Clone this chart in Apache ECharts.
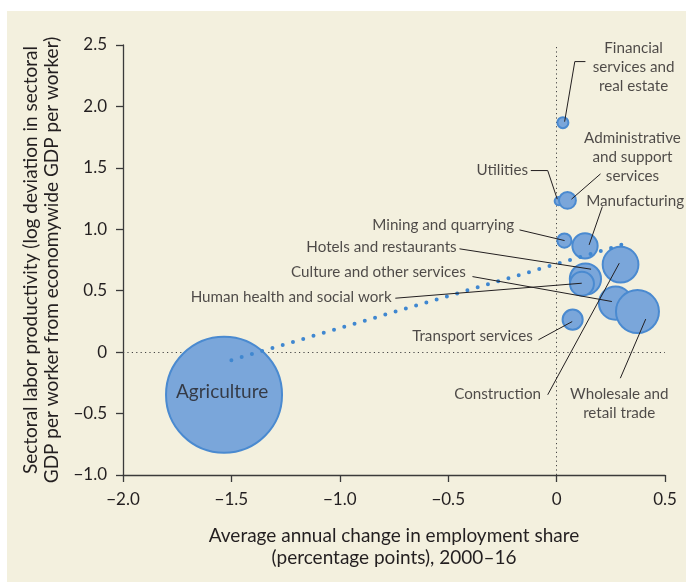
<!DOCTYPE html>
<html>
<head>
<meta charset="utf-8">
<script src="https://cdn.jsdelivr.net/npm/echarts@6/dist/echarts.min.js"></script>
<style>
  html,body{margin:0;padding:0;background:#fff;}
  #chart{position:absolute;left:7px;top:11px;width:679px;height:571px;}
</style>
</head>
<body>
<div id="chart"></div>
<script>
(function(){
  // ===== Dados =====
  const sectors = [
    'Agriculture','Financial services and real estate','Utilities','Administrative and support services',
    'Mining and quarrying','Manufacturing','Hotels and restaurants','Human health and social work',
    'Culture and other services','Construction','Wholesale and retail trade','Transport services'
  ];
  // variação média anual da participação no emprego (p.p.), 2000-16
  const employmentChange = [-1.534, 0.029, 0.010, 0.050, 0.036, 0.131, 0.133, 0.117, 0.272, 0.295, 0.373, 0.074];
  // produtividade setorial (desvio log)
  const productivity     = [-0.347, 1.868, 1.230, 1.235, 0.908, 0.865, 0.595, 0.557, 0.399, 0.713, 0.330, 0.265];
  // participação no emprego (tamanho da bolha)
  const employmentShare  = [40, 0.36, 0.2, 0.85, 0.6, 1.9, 2.9, 1.7, 3.3, 3.8, 5.5, 1.2];
  // linha de tendência
  const trendX = [-1.5, 0.34];
  const trendY = [-0.065, 0.895];

  // ===== Anotações (posição dos rótulos e linhas-guia, em coordenadas do gráfico) =====
  const notes = {
    'Agriculture':                        {at:[-1.543,-0.321], align:'center', big:true},
    'Financial services and real estate': {text:'Financial\nservices and\nreal estate', at:[0.355,2.323], align:'center',
                                           path:[[0.133,2.365],[0.084,2.365],[0.037,1.876]]},
    'Utilities':                          {at:[-0.132,1.478], align:'right', path:[[-0.119,1.478],[-0.041,1.478],[0.003,1.245]]},
    'Administrative and support services':{text:'Administrative\nand support\nservices', at:[0.350,1.587], align:'center',
                                           path:[[0.2025,1.451],[0.0687,1.245]]},
    'Manufacturing':                      {at:[0.362,1.231], align:'center', path:[[0.211,1.185],[0.150,0.873]]},
    'Mining and quarrying':               {at:[-0.196,1.036], align:'right', path:[[-0.171,0.995],[0.037,0.908]]},
    'Hotels and restaurants':             {at:[-0.461,0.854], align:'right', path:[[-0.448,0.841],[0.159,0.675]]},
    'Culture and other services':         {at:[-0.419,0.648], align:'right', path:[[-0.388,0.615],[0.255,0.412]]},
    'Human health and social work':       {at:[-0.761,0.444], align:'right', path:[[-0.744,0.439],[0.116,0.561]]},
    'Transport services':                 {at:[-0.110,0.127], align:'right', path:[[-0.084,0.100],[0.072,0.249]]},
    'Construction':                       {at:[-0.072,-0.339], align:'right', path:[[-0.041,-0.347],[0.289,0.724]]},
    'Wholesale and retail trade':         {text:'Wholesale and\nretail trade', at:[0.289,-0.417], align:'center',
                                           path:[[0.294,-0.212],[0.411,0.269]]}
  };

  const FONT = 'Lato';
  const INK = '#231f20';
  const fmt = v => v===0 ? '0' : v.toFixed(1).replace('-','\u2212');

  const bubbles = sectors.map((s,i)=>({name:s, value:[employmentChange[i], productivity[i], employmentShare[i]]}));
  const labelData = sectors.map(s=>{
    const n = notes[s];
    return {
      name:s, value:n.at,
      label:{formatter:n.text||s, align:n.align, fontSize:n.big?19:15.2, lineHeight:n.big?22:19}
    };
  });
  const leaderData = sectors.filter(s=>notes[s].path).map(s=>({coords:notes[s].path}));

  const chart = echarts.init(document.getElementById('chart'), null, {renderer:'canvas'});
  chart.setOption({
    backgroundColor:'#f3f0de',
    animation:false,
    textStyle:{fontFamily:FONT, color:INK},
    grid:{left:116, right:21, top:34, bottom:107},
    xAxis:{
      type:'value', min:-2, max:0.5, interval:0.5,
      name:'Average annual change in employment share\n(percentage points), 2000\u201316',
      nameLocation:'middle', nameGap:50,
      nameTextStyle:{fontFamily:FONT, fontSize:19, lineHeight:22, color:INK},
      axisLine:{show:true, onZero:false, lineStyle:{color:'#3a3a3a', width:1.3}},
      axisTick:{show:true, length:7, lineStyle:{color:'#3a3a3a', width:1.3}},
      axisLabel:{formatter:fmt, fontFamily:FONT, fontSize:17, color:INK, margin:16},
      splitLine:{show:false}
    },
    yAxis:{
      type:'value', min:-1, max:2.5, interval:0.5,
      name:'Sectoral labor productivity (log deviation in sectoral\nGDP per worker from economywide GDP per worker)',
      nameLocation:'middle', nameGap:58,
      nameTextStyle:{fontFamily:FONT, fontSize:19, lineHeight:21, color:INK},
      axisLine:{show:true, onZero:false, lineStyle:{color:'#3a3a3a', width:1.3}},
      axisTick:{show:true, length:7, lineStyle:{color:'#3a3a3a', width:1.3}},
      axisLabel:{formatter:fmt, fontFamily:FONT, fontSize:17, color:INK, margin:16},
      splitLine:{show:false}
    },
    series:[
      {
        name:'sectors', type:'scatter', z:2, silent:true,
        data:bubbles,
        symbolSize:v=>2*9.17*Math.sqrt(v[2]),
        itemStyle:{color:'#7aa6da', borderColor:'#4a8ad0', borderWidth:2, opacity:1}
      },
      {
        name:'trend', type:'line', z:3, silent:true,
        data:trendX.map((x,i)=>[x,trendY[i]]),
        showSymbol:false, symbol:'none',
        lineStyle:{color:'#3f87d0', width:4, type:[0,10.7], cap:'round'},
        markLine:{
          silent:true, z:1, symbol:'none',
          label:{show:false},
          lineStyle:{color:'#444', width:1, type:[1.2,3.2]},
          data:[{xAxis:0},{yAxis:0}]
        }
      },
      {
        name:'leaders', type:'lines', coordinateSystem:'cartesian2d', polyline:true, z:4, silent:true,
        data:leaderData,
        lineStyle:{color:INK, width:1, opacity:1}
      },
      {
        name:'labels', type:'scatter', z:5, silent:true,
        symbolSize:0,
        data:labelData,
        label:{show:true, position:'inside', verticalAlign:'middle', fontFamily:FONT, color:INK}
      }
    ]
  });

  window.addEventListener('resize', ()=>chart.resize());
})();
</script>
</body>
</html>
